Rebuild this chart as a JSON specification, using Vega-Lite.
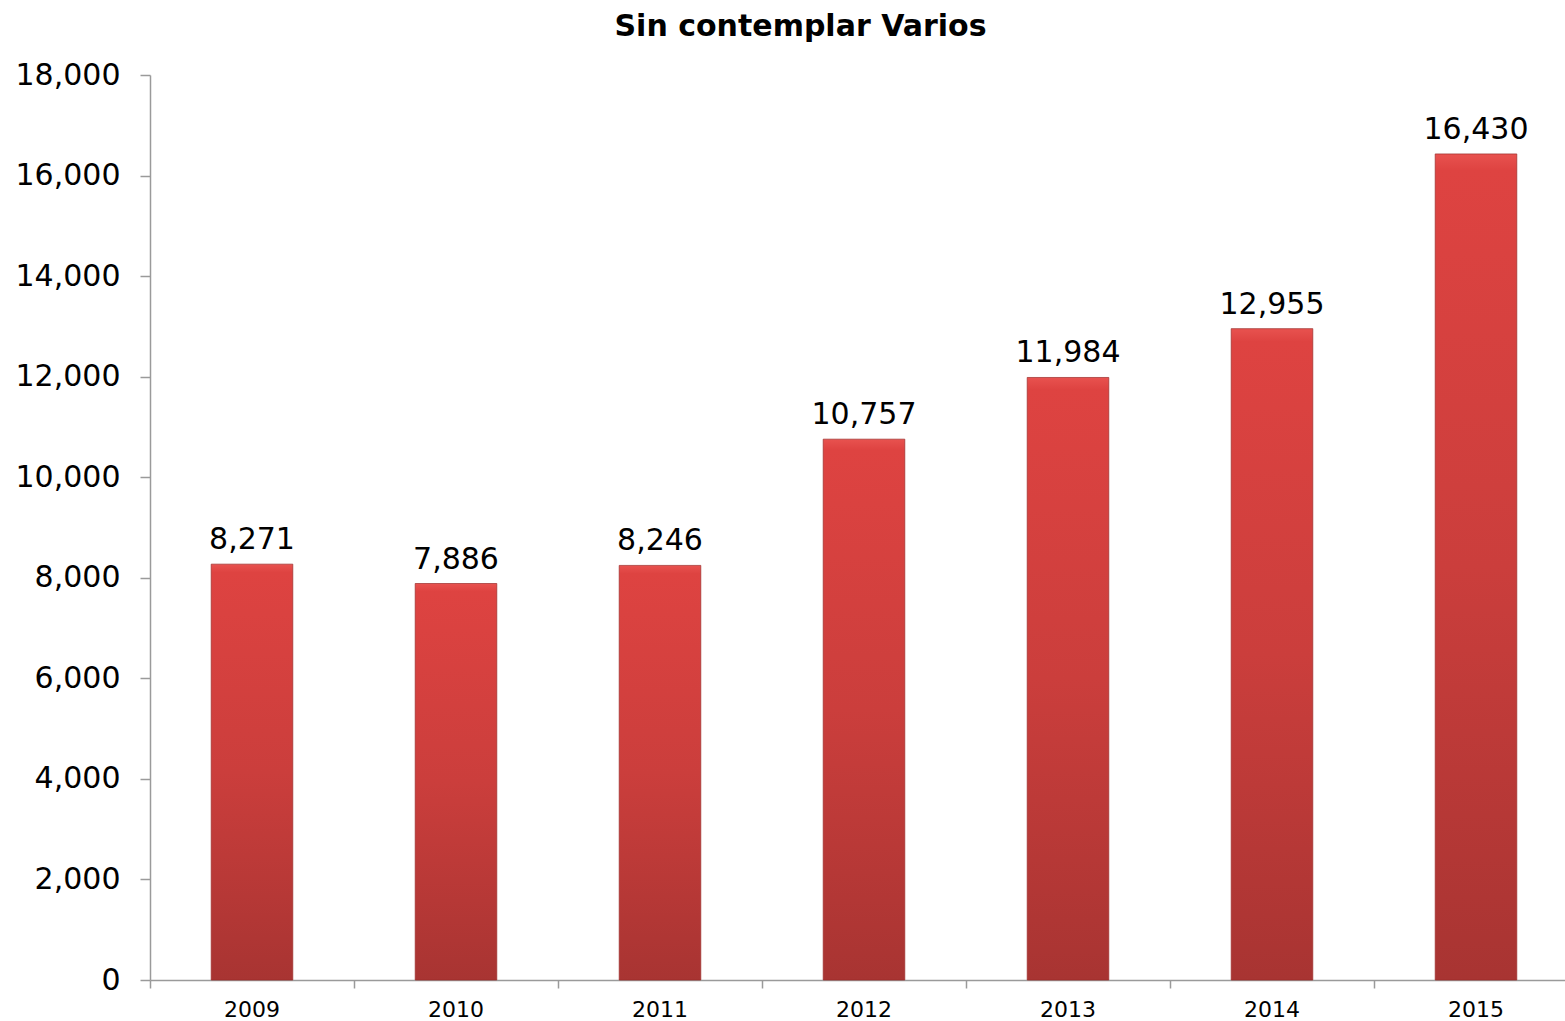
{
  "$schema": "https://vega.github.io/schema/vega-lite/v6.json",
  "autosize": "none",
  "width": 1415,
  "height": 905,
  "padding": {"left": 150, "top": 75, "right": 0, "bottom": 41},
  "background": "white",
  "config": {"view": {"stroke": null}, "font": "DejaVu Sans"},
  "title": {"text": "Sin contemplar Varios", "font": "DejaVu Sans", "fontSize": 30, "fontWeight": "bold", "color": "#000000", "anchor": "middle", "dx": -57, "offset": 18},
  "data": {"values": [
    {"year": "2009", "value": 8271},
    {"year": "2010", "value": 7886},
    {"year": "2011", "value": 8246},
    {"year": "2012", "value": 10757},
    {"year": "2013", "value": 11984},
    {"year": "2014", "value": 12955},
    {"year": "2015", "value": 16430}
  ]},
  "encoding": {
    "x": {"field": "year", "type": "ordinal",
      "scale": {"range": [0, 1428], "paddingInner": 0, "paddingOuter": 0},
      "axis": {"title": null, "labelAngle": 0, "labelFontSize": 22, "labelColor": "#000000", "labelPadding": 11, "tickSize": 8, "bandPosition": 0, "domainColor": "#9a9a9a", "tickColor": "#9a9a9a", "domainWidth": 1.5, "tickWidth": 1.5, "grid": false}},
    "y": {"field": "value", "type": "quantitative",
      "scale": {"domain": [0, 18000]},
      "axis": {"title": null, "values": [0,2000,4000,6000,8000,10000,12000,14000,16000,18000], "format": ",.0f", "labelOverlap": false, "labelFontSize": 30, "labelColor": "#000000", "labelPadding": 20, "tickSize": 10, "domainColor": "#9a9a9a", "tickColor": "#9a9a9a", "domainWidth": 1.5, "tickWidth": 1.5, "grid": false}}
  },
  "layer": [
    {"mark": {"type": "bar", "width": {"band": 0.4}, "stroke": "#9b2c2a", "strokeWidth": 1, "strokeOpacity": 0.7,
      "color": {"gradient": "linear", "x1": 0, "y1": 0, "x2": 0, "y2": 1, "stops": [
        {"offset": 0, "color": "#E8524F"},
        {"offset": 0.02, "color": "#DE4341"},
        {"offset": 0.5, "color": "#CB3E3C"},
        {"offset": 1, "color": "#A83432"}]}}},
    {"mark": {"type": "text", "baseline": "bottom", "dy": -9, "fontSize": 30, "color": "#000000", "font": "DejaVu Sans"},
      "encoding": {"text": {"field": "value", "type": "quantitative", "format": ",.0f"}}}
  ]
}
